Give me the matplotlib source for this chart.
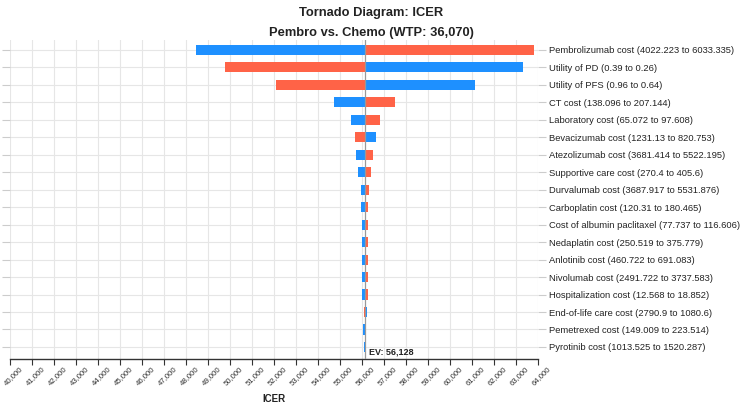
import numpy as np
import matplotlib
matplotlib.use("Agg")
import matplotlib.pyplot as plt
from matplotlib.ticker import FuncFormatter, MultipleLocator
from matplotlib.transforms import ScaledTranslation

plt.rcParams["font.family"] = ["Liberation Sans", "DejaVu Sans"]

# ----------------------------
# Data
# ----------------------------
ev = 56128

labels = [
    "Pembrolizumab cost (4022.223 to 6033.335)",
    "Utility of PD (0.39 to 0.26)",
    "Utility of PFS (0.96 to 0.64)",
    "CT cost (138.096 to 207.144)",
    "Laboratory cost (65.072 to 97.608)",
    "Bevacizumab cost (1231.13 to 820.753)",
    "Atezolizumab cost (3681.414 to 5522.195)",
    "Supportive care cost (270.4 to 405.6)",
    "Durvalumab cost (3687.917 to 5531.876)",
    "Carboplatin cost (120.31 to 180.465)",
    "Cost of albumin paclitaxel (77.737 to 116.606)",
    "Nedaplatin cost (250.519 to 375.779)",
    "Anlotinib cost (460.722 to 691.083)",
    "Nivolumab cost (2491.722 to 3737.583)",
    "Hospitalization cost (12.568 to 18.852)",
    "End-of-life care cost (2790.9 to 1080.6)",
    "Pemetrexed cost (149.009 to 223.514)",
    "Pyrotinib cost (1013.525 to 1520.287)",
]

# ICER when the parameter is set to its first value (blue) / second value (red)
icer_low = [48470, 63320, 61120, 54730, 55490, 56630, 55735, 55840, 55950,
            55950, 55980, 55980, 55980, 56020, 56020, 56237, 56040, 56080]
icer_high = [63820, 49770, 52110, 57520, 56830, 55660, 56520, 56420, 56340,
             56295, 56250, 56250, 56250, 56250, 56250, 56076, 56190, 56175]

blue = "#1E90FF"
red = "#FF6347"

# ----------------------------
# Plot
# ----------------------------
fig = plt.figure(figsize=(7.43, 4.05), dpi=100)
ax = fig.add_axes([10 / 743, 1 - 359 / 405, 528 / 743, 319 / 405])

y = np.arange(len(labels))
bar_h = 0.58
ax.barh(y, np.array(icer_low) - ev, left=ev, height=bar_h, color=blue, zorder=3)
ax.barh(y, np.array(icer_high) - ev, left=ev, height=bar_h, color=red, zorder=3)

ax.axvline(ev, color="#999999", linewidth=0.9, zorder=4)
ax.annotate(f"EV: {ev:,}", xy=(ev, len(labels) - 1 + 0.3), xytext=(3, 0),
            textcoords="offset points", fontsize=6.5, fontweight="bold",
            color="#222222", va="center", ha="left", zorder=5)

ax.set_xlim(40000, 64000)
ax.set_ylim(len(labels) - 1 + 0.69, -0.57)
ax.xaxis.set_major_locator(MultipleLocator(1000))
ax.xaxis.set_major_formatter(FuncFormatter(lambda v, p: f"{int(v):,}"))
ax.tick_params(axis="x", labelsize=5.6, labelcolor="#333333", rotation=45,
               length=4, color="#333333", pad=1)
shift = ScaledTranslation(9 / 100, 1 / 100, fig.dpi_scale_trans)
for lab in ax.get_xticklabels():
    lab.set_ha("right")
    lab.set_rotation_mode("anchor")
    lab.set_transform(lab.get_transform() + shift)

ax.set_yticks(y)
ax.set_yticklabels(labels)
ax.tick_params(axis="y", left=True, right=True, labelleft=False, labelright=True,
               labelsize=6.75, labelcolor="#222222", length=6, color="#cccccc", pad=2)

ax.grid(True, color="#e6e6e6", linewidth=0.8, zorder=0)
ax.set_axisbelow(True)
for side in ["top", "right", "left"]:
    ax.spines[side].set_visible(False)
ax.spines["bottom"].set_color("#333333")
ax.spines["bottom"].set_linewidth(1.0)

fig.text(274 / 743, 1 - 399 / 405, "ICER", ha="center", va="center",
         fontsize=7, fontweight="bold", color="#222222")

fig.text(0.5, 1 - 13 / 405, "Tornado Diagram: ICER", ha="center", va="center",
         fontsize=9.3, fontweight="bold", color="#222222")
fig.text(0.5, 1 - 33 / 405, "Pembro vs. Chemo (WTP: 36,070)", ha="center", va="center",
         fontsize=9.3, fontweight="bold", color="#222222")

fig.savefig("out.png", dpi=100)
